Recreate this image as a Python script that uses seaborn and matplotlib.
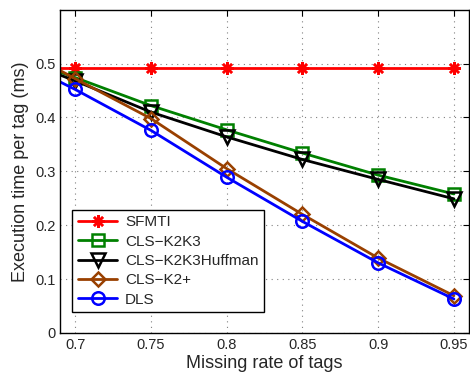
import matplotlib
matplotlib.use('Agg')
import matplotlib.pyplot as plt
import seaborn as sns

# DATA (0.65 point only feeds the clipped stub at the left edge)
missing_rate = [0.65, 0.70, 0.75, 0.80, 0.85, 0.90, 0.95]
sfmti = [0.492, 0.492, 0.492, 0.492, 0.492, 0.492, 0.492]
cls_k2k3 = [0.525, 0.474, 0.422, 0.377, 0.334, 0.293, 0.258]
cls_k2k3_huffman = [0.522, 0.468, 0.410, 0.364, 0.322, 0.285, 0.249]
cls_k2plus = [0.548, 0.472, 0.398, 0.305, 0.220, 0.139, 0.069]
dls = [0.522, 0.452, 0.376, 0.289, 0.207, 0.130, 0.063]

series = [
    ('SFMTI', sfmti, (1, 0, 0), (8, 2, 0)),
    ('CLS\u2212K2K3', cls_k2k3, (0, 0.5, 0), 's'),
    ('CLS\u2212K2K3Huffman', cls_k2k3_huffman, (0, 0, 0), 'v'),
    ('CLS\u2212K2+', cls_k2plus, (0.6, 0.25, 0), 'D'),
    ('DLS', dls, (0, 0, 1), 'o'),
]

sns.set_style('white')
plt.rcParams['font.family'] = ['Liberation Sans', 'DejaVu Sans']

fig = plt.figure(figsize=(4.7, 3.77), dpi=100)
ax = fig.add_axes([0.128, 0.117, 0.870, 0.857])

for name, vals, col, mk in series:
    ms = 9 if mk != 'D' else 7.5
    if mk == 'v':
        ms = 10
    sns.lineplot(x=missing_rate, y=vals, color=col, marker=mk, markersize=ms,
                 markerfacecolor='none', markeredgecolor=col, markeredgewidth=1.8,
                 linewidth=2, label=name, ax=ax)

ax.set_xlim(0.69, 0.96)
ax.set_ylim(0, 0.6)
ax.set_xticks([0.7, 0.75, 0.8, 0.85, 0.9, 0.95])
ax.set_xticklabels(['0.7', '0.75', '0.8', '0.85', '0.9', '0.95'])
ax.set_yticks([0, 0.1, 0.2, 0.3, 0.4, 0.5])
ax.set_yticklabels(['0', '0.1', '0.2', '0.3', '0.4', '0.5'])
ax.tick_params(direction='in', top=True, right=True, labelsize=10.5, length=4, color='black')
ax.grid(True, linestyle=(0, (1, 4)), color='gray', linewidth=0.8)
for s in ax.spines.values():
    s.set_color('black')
    s.set_linewidth(1)

ax.set_xlabel('Missing rate of tags', fontsize=13, labelpad=2)
ax.set_ylabel('Execution time per tag (ms)', fontsize=13, labelpad=4)

leg = ax.legend(loc='lower left', bbox_to_anchor=(0.03, 0.065), fontsize=11,
                frameon=True, fancybox=False, edgecolor='black', framealpha=1,
                handlelength=2.6, borderpad=0.35, labelspacing=0.35, handletextpad=0.5,
                borderaxespad=0)
leg.get_frame().set_linewidth(1)

fig.savefig('out.png', dpi=100)
